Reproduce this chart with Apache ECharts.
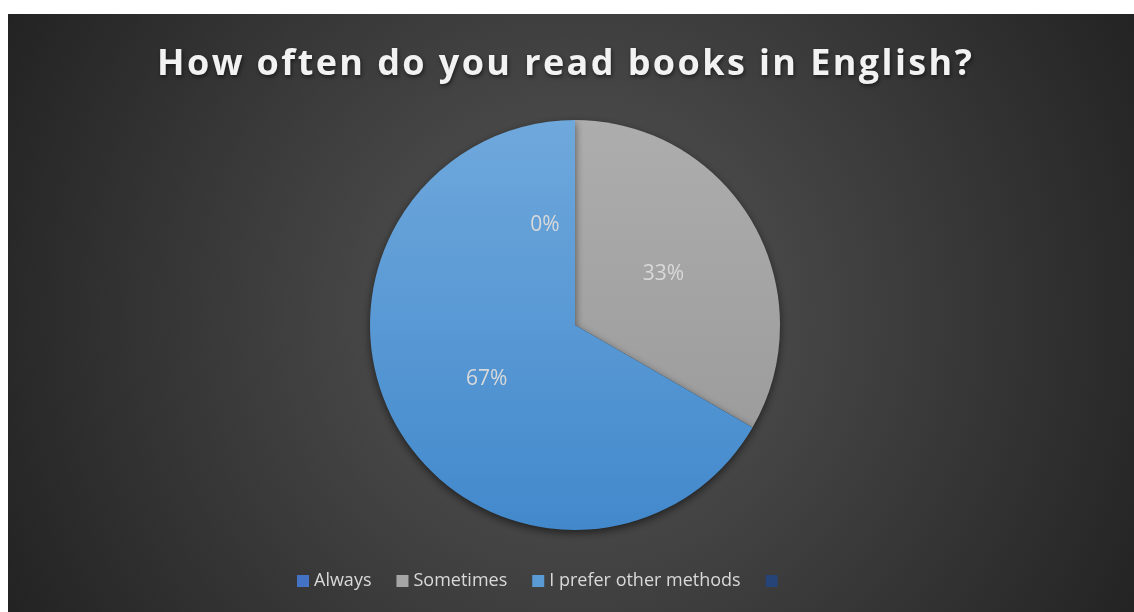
<!DOCTYPE html>
<html>
<head>
<meta charset="utf-8">
<title>How often do you read books in English?</title>
<script src="https://cdn.jsdelivr.net/npm/echarts@6/dist/echarts.min.js"></script>
<style>
  html, body { margin: 0; padding: 0; background: #ffffff; }
  #chart { position: absolute; left: 8px; top: 14px; width: 1126px; height: 598px; }
</style>
</head>
<body>
<div id="chart"></div>
<script>
// Survey answers and their counts
const titleText = 'How often do you read books in English?';
const categories = ['Always', 'Sometimes', 'I prefer other methods', ' '];
const counts = [0, 1, 2, 0];
const legendColors = ['#4472c4', '#a5a5a5', '#5b9bd5', '#264478'];

const CX = 567, CY = 311, R = 205;

// The heading is drawn with wider tracking than the rest of the text.
const TITLE_TRACKING = '2.4px';
const baseFillText = CanvasRenderingContext2D.prototype.fillText;
CanvasRenderingContext2D.prototype.fillText = function (text) {
  if (text === titleText && 'letterSpacing' in this) {
    const prev = this.letterSpacing;
    this.letterSpacing = TITLE_TRACKING;
    const out = baseFillText.apply(this, arguments);
    this.letterSpacing = prev;
    return out;
  }
  return baseFillText.apply(this, arguments);
};

function vGrad(top, bottom) {
  return {
    type: 'linear', x: 0, y: CY - R, x2: 0, y2: CY + R, global: true,
    colorStops: [{ offset: 0, color: top }, { offset: 1, color: bottom }]
  };
}
const sliceFills = [
  vGrad('#5584d6', '#3a64b0'),
  vGrad('#adadad', '#979797'),
  vGrad('#6fa8dc', '#4289cc'),
  vGrad('#2c4f8a', '#1f3c6a')
];

const chart = echarts.init(document.getElementById('chart'), null, { renderer: 'canvas' });

chart.setOption({
  backgroundColor: {
    type: 'radial', x: CX, y: 300, r: 650, global: true,
    colorStops: [
      { offset: 0, color: '#575757' },
      { offset: 1, color: '#222222' }
    ]
  },
  animation: false,
  title: {
    text: titleText,
    left: 144,
    top: 28,
    textStyle: {
      fontFamily: '"Open Sans", sans-serif',
      fontWeight: 'bold',
      fontSize: 36,
      color: '#f2f2f2',
      textShadowColor: 'rgba(0,0,0,0.55)',
      textShadowBlur: 4,
      textShadowOffsetX: 1,
      textShadowOffsetY: 2
    }
  },
  legend: {
    bottom: 17,
    left: 284,
    itemWidth: 12,
    itemHeight: 12,
    itemGap: 25,
    icon: 'rect',
    data: categories.map((name, i) => ({ name: name, itemStyle: { color: legendColors[i] } })),
    textStyle: {
      fontFamily: '"Open Sans", sans-serif',
      fontSize: 18,
      color: '#d9d9d9'
    }
  },
  series: [{
    type: 'pie',
    center: [CX, CY],
    radius: [0, R],
    startAngle: 90,
    clockwise: true,
    stillShowZeroSum: true,
    avoidLabelOverlap: false,
    label: {
      show: true,
      position: 'inside',
      color: '#d9d9d9',
      fontFamily: '"Open Sans", sans-serif',
      fontSize: 21,
      formatter: p => Math.round(p.percent) + '%'
    },
    labelLine: { show: false },
    itemStyle: {
      borderWidth: 0,
      shadowColor: 'rgba(0,0,0,0.55)',
      shadowBlur: 8,
      shadowOffsetY: 3
    },
    emphasis: { disabled: true },
    labelLayout: p => (p.dataIndex === 0 ? { dx: -30, dy: 6 } : p.dataIndex === 1 ? { dx: -3, dy: 2 } : { dx: 3, dy: 1 }),
    data: categories.map((name, i) => ({
      name: name,
      value: counts[i],
      itemStyle: { color: sliceFills[i] },
      label: i === 3 ? { show: false } : undefined
    }))
  }]
});
</script>
</body>
</html>
